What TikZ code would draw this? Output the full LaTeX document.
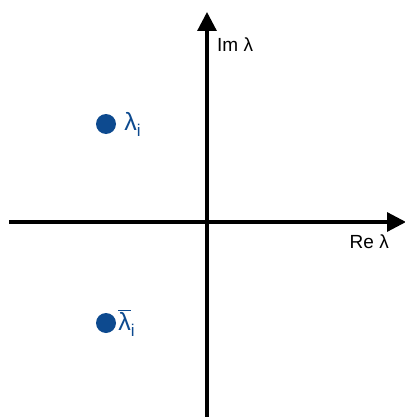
\documentclass[tikz,border=0pt]{standalone}
\usepackage{fontspec}
\setmainfont{Liberation Sans}
\usetikzlibrary{arrows.meta,positioning}
\definecolor{rootblue}{HTML}{0D4A8F}
\newcommand{\lowsub}[1]{\raisebox{-6pt}{\fontsize{17}{19}\selectfont #1}}
\tikzset{
  axis/.style ={line width=3.2pt, -{Triangle[length=19pt, width=19pt]}},
  root/.style ={circle, fill=rootblue, inner sep=0pt, minimum size=20pt},
  rlab/.style ={text=rootblue, font=\fontsize{25}{28}\selectfont, inner sep=1pt},
  alab/.style ={font=\fontsize{19}{22}\selectfont, inner sep=0pt},
}
\begin{document}
\begin{tikzpicture}[x=1pt, y=-1pt]
\useasboundingbox (0,0) rectangle (404,417);
% axes
\coordinate (xl) at (9,222);
\coordinate (xr) at (406,222);
\coordinate (yb) at (207,417);
\coordinate (yt) at (207,12);
\draw[axis] (xl) -- (xr);
\draw[axis] (yb) -- (yt);
\node[alab, anchor=west] (im) at (217,45) {Im λ};
\node[alab, anchor=east] (re) at (389,242) {Re λ};
% eigenvalue pair
\node[root] (up) at (106,124) {};
\node[rlab, right=7pt of up] (uplab) {λ\lowsub{i}};
\node[root] (dn) at (106,323) {};
\node[rlab, right=1pt of dn] (dnlab) {$\overline{\hbox{λ}}$\lowsub{i}};
\end{tikzpicture}
\end{document}
